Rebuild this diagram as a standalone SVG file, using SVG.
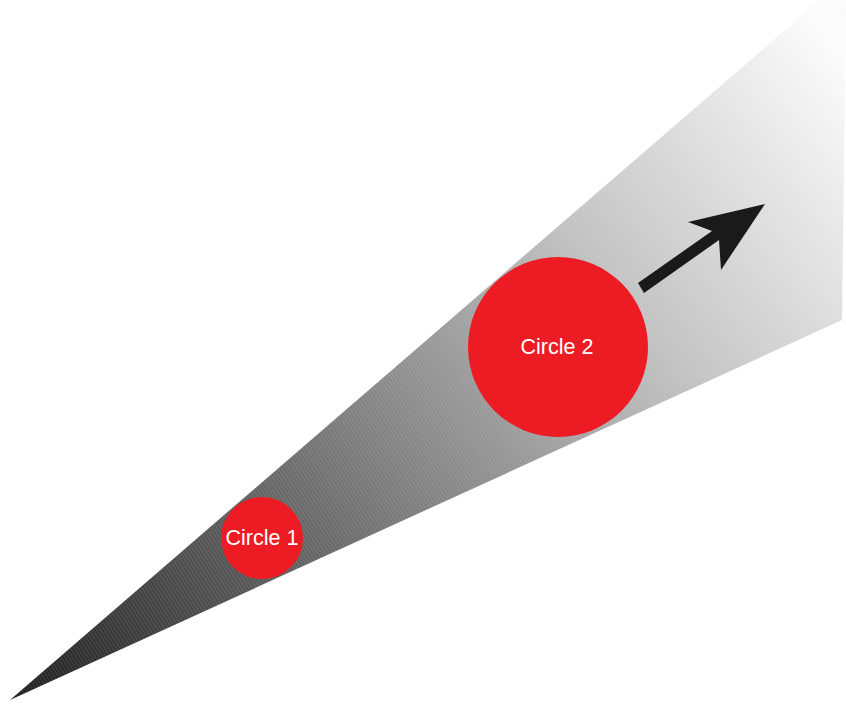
<svg xmlns="http://www.w3.org/2000/svg" width="846" height="704" viewBox="0 0 846 704">
  <defs>
    <linearGradient id="wedgeGrad" gradientUnits="userSpaceOnUse" x1="10" y1="700" x2="842" y2="60">
      <stop offset="0" stop-color="#1e1e1e"/>
      <stop offset="0.35" stop-color="#6e6e6e"/>
      <stop offset="0.7" stop-color="#c2c2c2"/>
      <stop offset="1" stop-color="#fbfbfb"/>
    </linearGradient>
    <pattern id="stripes" patternUnits="userSpaceOnUse" width="3.2" height="3.2" patternTransform="rotate(-33)">
      <rect x="0" y="0" width="0.9" height="3.2" fill="#ffffff" fill-opacity="0.12"/>
    </pattern>
    <style>
      .circle { fill: #ED1C24; }
      .label { font-family: "Liberation Sans", Arial, sans-serif; font-size: 21.5px; fill: #ffffff; text-anchor: middle; }
    </style>
  </defs>
  <rect width="846" height="704" fill="#ffffff"/>
  <g id="wedge">
    <polygon points="10,700 820,0 846,0 842,320" fill="url(#wedgeGrad)"/>
    <polygon points="10,700 820,0 846,0 842,320" fill="url(#stripes)"/>
  </g>
  <g id="circle1">
    <circle class="circle" cx="262" cy="538" r="41"/>
    <text class="label" x="262" y="545">Circle 1</text>
  </g>
  <g id="circle2">
    <circle class="circle" cx="558" cy="347" r="90"/>
    <text class="label" x="557" y="354">Circle 2</text>
  </g>
  <g id="connectors">
    <polygon points="638,283 712,231 688,222 765,204 721,270 719,240 644,293" fill="#1a1a1a"/>
  </g>
</svg>
